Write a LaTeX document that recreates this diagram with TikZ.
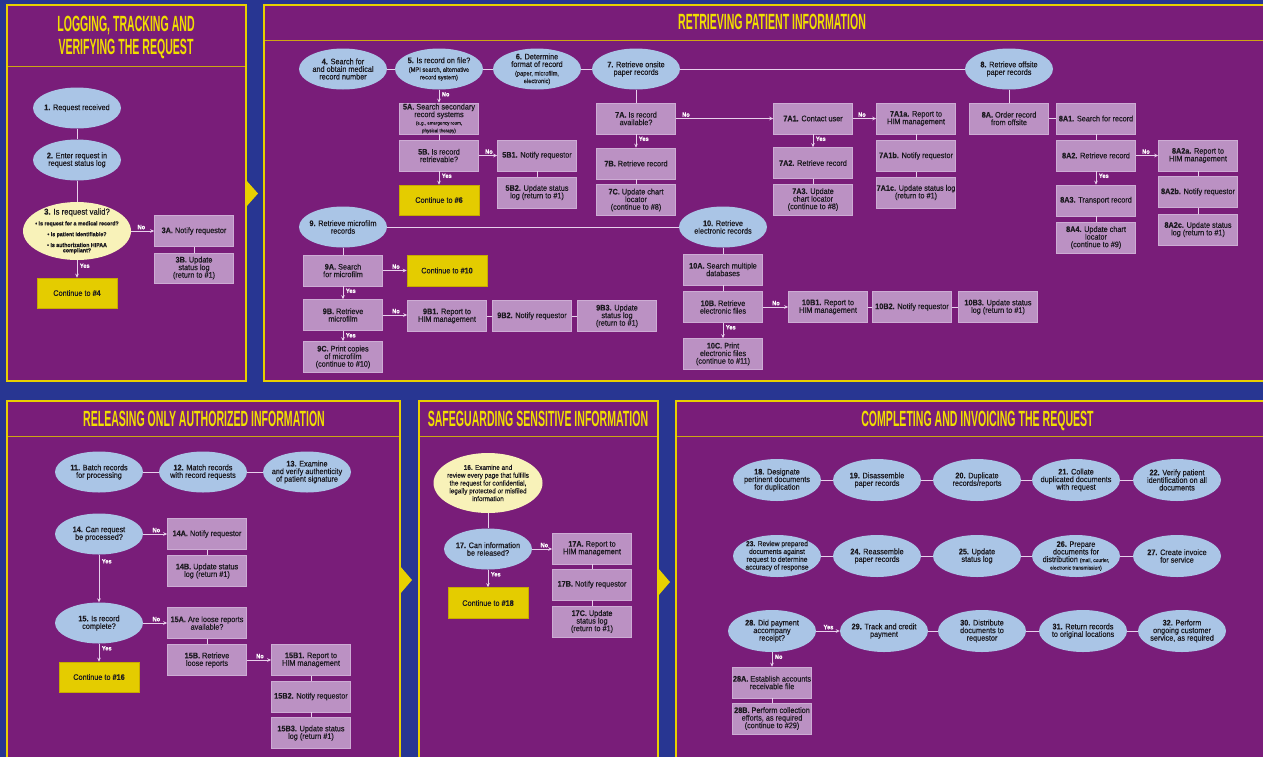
\documentclass[tikz,border=0pt]{standalone}
\usepackage{fontspec}
\setmainfont{Liberation Sans}[FakeStretch=0.91, FakeBold=0.45]
\newfontfamily\titlefont{Liberation Sans}[FakeStretch=0.48]
\usetikzlibrary{shapes.geometric,arrows.meta}
\definecolor{bgblue}{RGB}{40,54,146}
\definecolor{panelc}{RGB}{121,29,121}
\definecolor{pborder}{RGB}{232,208,0}
\definecolor{hlinec}{RGB}{205,165,20}
\definecolor{ellc}{RGB}{170,197,230}
\definecolor{boxc}{RGB}{187,145,195}
\definecolor{boxedge}{RGB}{205,172,212}
\definecolor{yboxc}{RGB}{228,204,0}
\definecolor{yedge}{RGB}{200,170,0}
\definecolor{creamc}{RGB}{248,242,185}
\definecolor{linec}{RGB}{232,208,236}
\definecolor{txtc}{RGB}{28,26,32}
\definecolor{titlec}{RGB}{240,222,0}
\newcommand{\nm}[1]{\textbf{#1}}
\newcommand{\mysmall}{\fontsize{6.3}{6.6}\selectfont}
\newcommand{\mytiny}{\fontsize{4.9}{5.4}\selectfont}
\newcommand{\myttiny}{\fontsize{5.4}{5.6}\selectfont}
\tikzset{
 base/.style={align=center, text=txtc, font=\fontsize{8}{7.6}\selectfont, inner sep=0pt},
 ell/.style={base, ellipse, fill=ellc, minimum width=88pt, minimum height=41pt, inner sep=-14pt},
 cream/.style={ell, fill=creamc},
 box/.style={base, rectangle, fill=boxc, draw=boxedge, line width=0.6pt, minimum width=79pt, minimum height=31pt},
 ybox/.style={base, rectangle, fill=yboxc, draw=yedge, line width=0.6pt, minimum width=80pt, minimum height=30pt},
 conn/.style={draw=linec, line width=0.8pt},
 arr/.style={conn, -{Stealth[length=4pt,width=3.6pt]}},
 lbl/.style={font=\bfseries\fontsize{6.2}{6.2}\selectfont, text=white, inner sep=1pt},
 hl/.style={lbl, pos=0, anchor=south west, xshift=5pt, yshift=0.3pt},
 vl/.style={lbl, pos=0, anchor=north west, xshift=1.5pt, yshift=-2pt},
 panelbox/.style={fill=panelc, draw=pborder, line width=2.6pt},
 hdr/.style={draw=hlinec, line width=0.9pt},
 ttl/.style={font=\titlefont\bfseries\fontsize{22}{23}\selectfont, text=titlec, align=center, text depth=0pt, inner sep=0pt},
}
\begin{document}
\begin{tikzpicture}[x=1pt,y=-1pt]
\useasboundingbox (0,0) rectangle (1263,756);
\clip (0,0) rectangle (1263,756);
\fill[bgblue] (-5,-5) rectangle (1270,765);
% panels
\draw[panelbox] (7,5) rectangle (246,381);
\draw[panelbox] (264,5) rectangle (1280,381);
\draw[panelbox] (7,401) rectangle (400,775);
\draw[panelbox] (419,401) rectangle (658,775);
\draw[panelbox] (676,401) rectangle (1280,775);
\draw[hdr] (8.3,66) -- (244.7,66);
\draw[hdr] (265.3,40) -- (1280,40);
\draw[hdr] (8.3,436) -- (398.7,436);
\draw[hdr] (420.3,436) -- (656.7,436);
\draw[hdr] (677.3,436) -- (1280,436);
% arrows between panels
\fill[pborder] (246,180) -- (258,193.5) -- (246,207) -- cycle;
\fill[pborder] (400,566) -- (412,580) -- (400,594) -- cycle;
\fill[pborder] (658,568) -- (670,582) -- (658,596) -- cycle;
% titles
\node[ttl] (t1) at (126,35) {LOGGING, TRACKING AND\\VERIFYING THE REQUEST};
\node[ttl] (t2) at (772,21.5) {RETRIEVING PATIENT INFORMATION};
\node[ttl] (t3) at (204,418.5) {RELEASING ONLY AUTHORIZED INFORMATION};
\node[ttl] (t4) at (538,418.5) {SAFEGUARDING SENSITIVE INFORMATION};
\node[ttl] (t5) at (977.5,418.5) {COMPLETING AND INVOICING THE REQUEST};

% ---------- Panel 1
\node[ell] (n1) at (77,108) {\nm{1.} Request received};
\node[ell] (n2) at (77,160) {\nm{2.} Enter request in\\request status log};
\node[cream, minimum width=108pt, minimum height=58pt, font=\fontsize{5.8}{10.8}\selectfont\bfseries] (n3) at (77,231)
 {{\fontsize{8.5}{10.8}\selectfont\mdseries\nm{3.} Is request valid?}\\• Is request for a medical record?\\• Is patient identifiable?\\• Is authorization HIPAA\\[-5.5pt]compliant?};
\node[box] (n3a) at (194,231) {\nm{3A.} Notify requestor};
\node[box, minimum height=30pt] (n3b) at (194,268) {\nm{3B.} Update\\status log\\(return to \#1)};
\node[ybox] (c4) at (77,293) {Continue to \nm{\#4}};
\draw[conn] (n1) -- (n2);
\draw[conn] (n2) -- (n3);
\draw[arr] (n3.east) -- node[hl]{No} (n3a.west);
\draw[conn] (n3a) -- (n3b);
\draw[arr] (n3.south) -- node[vl]{Yes} (c4.north);

% ---------- Panel 2 top row
\node[ell] (n4) at (343,69) {\nm{4.} Search for\\and obtain medical\\record number};
\node[ell] (n5) at (439,69) {\nm{5.} Is record on file?\\[1pt]{\mysmall (MPI search, alternative}\\{\mysmall record system)}};
\node[ell] (n6) at (537,69) {\nm{6.} Determine\\format of record\\[1pt]{\mysmall (paper, microfilm,}\\{\mysmall electronic)}};
\node[ell] (n7) at (636,69) {\nm{7.} Retrieve onsite\\paper records};
\node[ell] (n8) at (1009,69) {\nm{8.} Retrieve offsite\\paper records};
\draw[conn] (n4) -- (n5);
\draw[conn] (n5) -- (n6);
\draw[conn] (n6) -- (n7);
\draw[conn] (n7) -- (n8);

% 5 branch
\node[box] (n5a) at (439,118.5) {\nm{5A.} Search secondary\\record systems\\{\mytiny (e.g., emergency room,}\\{\mytiny physical therapy)}};
\node[box] (n5b) at (439,155.5) {\nm{5B.} Is record\\retrievable?};
\node[box] (n5b1) at (537,155.5) {\nm{5B1.} Notify requestor};
\node[box] (n5b2) at (537,192.5) {\nm{5B2.} Update status\\log (return to \#1)};
\node[ybox] (c6) at (439,200) {Continue to \nm{\#6}};
\draw[arr] (n5.south) -- node[vl, yshift=1pt]{No} (n5a.north);
\draw[conn] (n5a) -- (n5b);
\draw[arr] (n5b.east) -- node[hl]{No} (n5b1.west);
\draw[conn] (n5b1) -- (n5b2);
\draw[arr] (n5b.south) -- node[vl, yshift=1pt]{Yes} (c6.north);

% 7 branch
\node[box] (n7a) at (636,118.5) {\nm{7A.} Is record\\available?};
\node[box] (n7b) at (636,163.5) {\nm{7B.} Retrieve record};
\node[box] (n7c) at (636,200) {\nm{7C.} Update chart\\locator\\(continue to \#8)};
\node[box] (n7a1) at (813,118.5) {\nm{7A1.} Contact user};
\node[box] (n7a1a) at (916,118.5) {\nm{7A1a.} Report to\\HIM management};
\node[box] (n7a1b) at (916,156) {\nm{7A1b.} Notify requestor};
\node[box] (n7a1c) at (916,192.5) {\nm{7A1c.} Update status log\\(return to \#1)};
\node[box] (n7a2) at (813,163) {\nm{7A2.} Retrieve record};
\node[box] (n7a3) at (813,199.5) {\nm{7A3.} Update\\chart locator\\(continue to \#8)};
\draw[conn] (n7) -- (n7a);
\draw[arr] (n7a.south) -- node[vl, yshift=1pt]{Yes} (n7b.north);
\draw[conn] (n7b) -- (n7c);
\draw[arr] (n7a.east) -- node[hl]{No} (n7a1.west);
\draw[arr] (n7a1.east) -- node[hl, xshift=-1pt]{No} (n7a1a.west);
\draw[conn] (n7a1a) -- (n7a1b);
\draw[conn] (n7a1b) -- (n7a1c);
\draw[arr] (n7a1.south) -- node[vl, yshift=1pt]{Yes} (n7a2.north);
\draw[conn] (n7a2) -- (n7a3);

% 8 branch
\node[box] (n8a) at (1009,118.5) {\nm{8A.} Order record\\from offsite};
\node[box] (n8a1) at (1096,118.5) {\nm{8A1.} Search for record};
\node[box] (n8a2) at (1096,155.5) {\nm{8A2.} Retrieve record};
\node[box] (n8a3) at (1096,200.5) {\nm{8A3.} Transport record};
\node[box] (n8a4) at (1096,237.5) {\nm{8A4.} Update chart\\locator\\(continue to \#9)};
\node[box] (n8a2a) at (1198,155.5) {\nm{8A2a.} Report to\\HIM management};
\node[box] (n8a2b) at (1198,192) {\nm{8A2b.} Notify requestor};
\node[box] (n8a2c) at (1198,229.5) {\nm{8A2c.} Update status\\log (return to \#1)};
\draw[conn] (n8) -- (n8a);
\draw[conn] (n8a) -- (n8a1);
\draw[conn] (n8a1) -- (n8a2);
\draw[arr] (n8a2.east) -- node[hl]{No} (n8a2a.west);
\draw[arr] (n8a2.south) -- node[vl, yshift=1pt]{Yes} (n8a3.north);
\draw[conn] (n8a3) -- (n8a4);
\draw[conn] (n8a2a) -- (n8a2b);
\draw[conn] (n8a2b) -- (n8a2c);

% 9 and 10
\node[ell] (n9) at (343,227) {\nm{9.} Retrieve microfilm\\records};
\node[ell] (n10) at (723,227) {\nm{10.} Retrieve\\electronic records};
\draw[conn] (n9) -- (n10);
\node[box] (n9a) at (343,270.5) {\nm{9A.} Search\\for microfilm};
\node[ybox, minimum height=31pt] (c10) at (447,270.5) {Continue to \nm{\#10}};
\node[box] (n9b) at (343,315) {\nm{9B.} Retrieve\\microfilm};
\node[box] (n9b1) at (447,316) {\nm{9B1.} Report to\\HIM management};
\node[box] (n9b2) at (532,316) {\nm{9B2.} Notify requestor};
\node[box] (n9b3) at (617,316) {\nm{9B3.} Update\\status log\\(return to \#1)};
\node[box] (n9c) at (343,357) {\nm{9C.} Print copies\\of microfilm\\(continue to \#10)};
\draw[conn] (n9) -- (n9a);
\draw[arr] (n9a.east) -- node[hl, xshift=3pt]{No} (c10.west);
\draw[arr] (n9a.south) -- node[vl, yshift=1pt]{Yes} (n9b.north);
\draw[arr] (n9b.east) -- node[hl, xshift=3pt]{No} (n9b.east -| n9b1.west);
\draw[conn] (n9b1) -- (n9b2);
\draw[conn] (n9b2) -- (n9b3);
\draw[arr] (n9b.south) -- node[vl, yshift=1pt]{Yes} (n9c.north);

\node[box] (n10a) at (723,269.5) {\nm{10A.} Search multiple\\databases};
\node[box] (n10b) at (723,307) {\nm{10B.} Retrieve\\electronic files};
\node[box] (n10b1) at (828,307) {\nm{10B1.} Report to\\HIM management};
\node[box] (n10b2) at (912,307) {\nm{10B2.} Notify requestor};
\node[box] (n10b3) at (998,307) {\nm{10B3.} Update status\\log (return to \#1)};
\node[box] (n10c) at (723,354) {\nm{10C.} Print\\electronic files\\(continue to \#11)};
\draw[conn] (n10) -- (n10a);
\draw[conn] (n10a) -- (n10b);
\draw[arr] (n10b.east) -- node[hl, xshift=3pt]{No} (n10b1.west);
\draw[conn] (n10b1) -- (n10b2);
\draw[conn] (n10b2) -- (n10b3);
\draw[arr] (n10b.south) -- node[vl, yshift=1pt]{Yes} (n10c.north);

% ---------- Panel 3
\node[ell] (n11) at (99,472) {\nm{11.} Batch records\\for processing};
\node[ell] (n12) at (203,472) {\nm{12.} Match records\\with record requests};
\node[ell] (n13) at (307,472) {\nm{13.} Examine\\and verify authenticity\\of patient signature};
\draw[conn] (n11) -- (n12);
\draw[conn] (n12) -- (n13);
\node[ell] (n14) at (99,534) {\nm{14.} Can request\\be processed?};
\node[box] (n14a) at (207,534) {\nm{14A.} Notify requestor};
\node[box] (n14b) at (207,571) {\nm{14B.} Update status\\log (return \#1)};
\node[ell] (n15) at (99,623) {\nm{15.} Is record\\complete?};
\node[box] (n15a) at (207,623) {\nm{15A.} Are loose reports\\available?};
\node[box] (n15b) at (207,660) {\nm{15B.} Retrieve\\loose reports};
\node[box] (n15b1) at (311,660) {\nm{15B1.} Report to\\HIM management};
\node[box] (n15b2) at (311,696.5) {\nm{15B2.} Notify requestor};
\node[box] (n15b3) at (311,733) {\nm{15B3.} Update status\\log (return \#1)};
\node[ybox] (c16) at (99,677) {Continue to \nm{\#16}};
\draw[arr] (n14.east) -- node[hl, xshift=3pt]{No} (n14a.west);
\draw[conn] (n14a) -- (n14b);
\draw[arr] (n14.south) -- node[vl, yshift=-1pt]{Yes} (n15.north);
\draw[arr] (n15.east) -- node[hl, xshift=3pt]{No} (n15a.west);
\draw[conn] (n15a) -- (n15b);
\draw[arr] (n15.south) -- node[vl, yshift=1pt]{Yes} (c16.north);
\draw[arr] (n15b.east) -- node[hl, xshift=3pt]{No} (n15b1.west);
\draw[conn] (n15b1) -- (n15b2);
\draw[conn] (n15b2) -- (n15b3);

% ---------- Panel 4
\node[cream, minimum width=109pt, minimum height=60pt, font=\fontsize{7}{7.8}\selectfont] (n16) at (488,483)
 {\nm{16.} Examine and\\review every page that fulfills\\the request for confidential,\\legally protected or misfiled\\information};
\node[ell] (n17) at (488,549) {\nm{17.} Can information\\be released?};
\node[box] (n17a) at (592,548.5) {\nm{17A.} Report to\\HIM management};
\node[box] (n17b) at (592,584.5) {\nm{17B.} Notify requestor};
\node[box] (n17c) at (592,621.5) {\nm{17C.} Update\\status log\\(return to \#1)};
\node[ybox, minimum height=31pt] (c18) at (488,603) {Continue to \nm{\#18}};
\draw[conn] (n16) -- (n17);
\draw[arr] (n17.east) -- node[hl, xshift=2pt]{No} (n17.east -| n17a.west);
\draw[conn] (n17a) -- (n17b);
\draw[conn] (n17b) -- (n17c);
\draw[arr] (n17.south) -- node[vl, yshift=1pt]{Yes} (c18.north);

% ---------- Panel 5
\node[ell, minimum height=42pt] (n18) at (777,480) {\nm{18.} Designate\\pertinent documents\\for duplication};
\node[ell, minimum height=42pt] (n19) at (877,480) {\nm{19.} Disassemble\\paper records};
\node[ell, minimum height=42pt] (n20) at (977,480) {\nm{20.} Duplicate\\records/reports};
\node[ell, minimum height=42pt] (n21) at (1076,480) {\nm{21.} Collate\\duplicated documents\\with request};
\node[ell, minimum height=42pt] (n22) at (1177,480) {\nm{22.} Verify patient\\identification on all\\documents};
\draw[conn] (n18) -- (n19);
\draw[conn] (n19) -- (n20);
\draw[conn] (n20) -- (n21);
\draw[conn] (n21) -- (n22);
\node[ell, minimum height=42pt, font=\fontsize{7.3}{6.6}\selectfont] (n23) at (777,556) {\nm{23.} Review prepared\\documents against\\request to determine\\accuracy of response};
\node[ell, minimum height=42pt] (n24) at (877,556) {\nm{24.} Reassemble\\paper records};
\node[ell, minimum height=42pt] (n25) at (977,556) {\nm{25.} Update\\status log};
\node[ell, minimum height=42pt] (n26) at (1076,556) {\nm{26.} Prepare\\documents for\\distribution {\myttiny (mail, courier,}\\{\myttiny electronic transmission)}};
\node[ell, minimum height=42pt] (n27) at (1177,556) {\nm{27.} Create invoice\\for service};
\draw[conn] (n23) -- (n24);
\draw[conn] (n24) -- (n25);
\draw[conn] (n25) -- (n26);
\draw[conn] (n26) -- (n27);
\node[ell, minimum height=42pt] (n28) at (772,631) {\nm{28.} Did payment\\accompany\\receipt?};
\node[ell, minimum height=42pt] (n29) at (884,631) {\nm{29.} Track and credit\\payment};
\node[ell, minimum height=42pt] (n30) at (982,631) {\nm{30.} Distribute\\documents to\\requestor};
\node[ell, minimum height=42pt] (n31) at (1083,631) {\nm{31.} Return records\\to original locations};
\node[ell, minimum height=42pt] (n32) at (1182,631) {\nm{32.} Perform\\ongoing customer\\service, as required};
\draw[arr] (n28.east) -- node[hl, xshift=1pt]{Yes} (n29.west);
\draw[conn] (n29) -- (n30);
\draw[conn] (n30) -- (n31);
\draw[conn] (n31) -- (n32);
\node[box] (n28a) at (772,682.5) {\nm{28A.} Establish accounts\\receivable file};
\node[box] (n28b) at (772,718.5) {\nm{28B.} Perform collection\\efforts, as required\\(continue to \#29)};
\draw[arr] (n28.south) -- node[vl, yshift=1pt]{No} (n28a.north);
\draw[conn] (n28a) -- (n28b);
\end{tikzpicture}
\end{document}
